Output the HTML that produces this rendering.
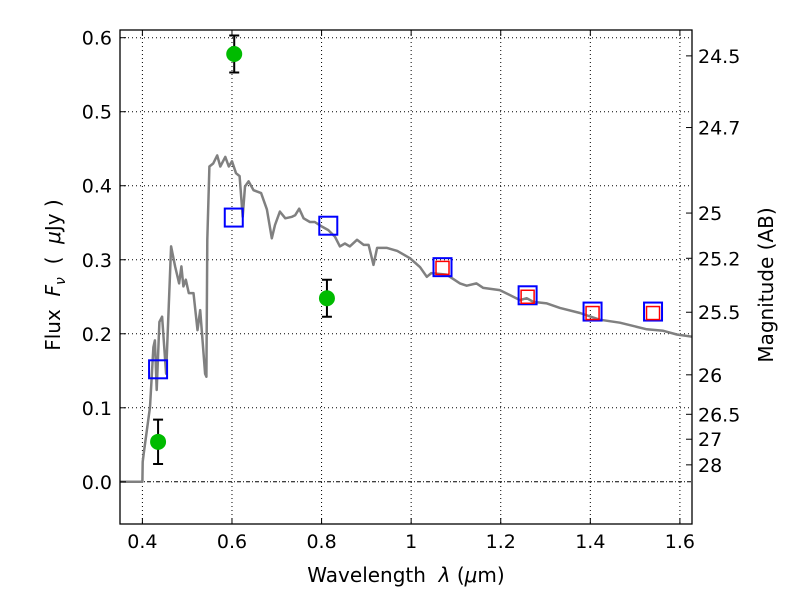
<!DOCTYPE html>
<html><head><meta charset="utf-8"><style>
body{margin:0;background:#fff;}
svg text{font-family:"DejaVu Sans","Liberation Sans",sans-serif;white-space:pre;}
</style></head><body>
<svg id="chart" width="800" height="600" xmlns="http://www.w3.org/2000/svg">
<rect x="0" y="0" width="800" height="600" fill="#fff"/>
<g id="grid"></g><g id="marks"></g><g id="axes"></g>
</svg>
<script>
const specWl=[0.35,0.400,0.4007,0.403,0.417,0.4246,0.428,0.432,0.438,0.444,0.453,0.464,0.473,0.482,0.487,0.4915,0.497,0.5035,0.514,0.523,0.529,0.54,0.543,0.545,0.5496,0.558,0.567,0.574,0.585,0.593,0.600,0.609,0.617,0.624,0.629,0.637,0.648,0.665,0.678,0.689,0.696,0.707,0.719,0.734,0.741,0.750,0.760,0.774,0.785,0.800,0.815,0.830,0.841,0.852,0.863,0.879,0.894,0.905,0.916,0.924,0.946,0.969,0.9976,1.02,1.035,1.045,1.079,1.109,1.124,1.146,1.161,1.198,1.243,1.258,1.273,1.303,1.332,1.377,1.421,1.466,1.526,1.563,1.593,1.627];
const specFlux=[0,0,0.027,0.038,0.101,0.182,0.191,0.124,0.216,0.223,0.146,0.318,0.291,0.268,0.291,0.264,0.273,0.255,0.255,0.205,0.232,0.146,0.142,0.327,0.426,0.430,0.441,0.426,0.439,0.426,0.433,0.417,0.413,0.358,0.399,0.406,0.394,0.390,0.368,0.329,0.347,0.365,0.356,0.358,0.360,0.369,0.356,0.351,0.351,0.345,0.340,0.331,0.318,0.322,0.318,0.327,0.320,0.320,0.293,0.316,0.316,0.312,0.302,0.290,0.277,0.282,0.280,0.268,0.265,0.268,0.262,0.259,0.2455,0.248,0.243,0.241,0.235,0.228,0.219,0.215,0.206,0.204,0.199,0.196];
const obsWl=[0.435,0.605,0.812];
const obsFlux=[0.054,0.578,0.248];
const obsErr=[0.030,0.025,0.025];
const blueWl=[0.435,0.604,0.815,1.07,1.26,1.405,1.54];
const blueFlux=[0.152,0.357,0.346,0.290,0.252,0.230,0.230];
const redWl=[1.07,1.26,1.405,1.54];
const redFlux=[0.289,0.250,0.228,0.228];
const xTicks=[0.4,0.6,0.8,1.0,1.2,1.4,1.6];
const xTickLabels=["0.4","0.6","0.8","1","1.2","1.4","1.6"];
const yTicks=[0,0.1,0.2,0.3,0.4,0.5,0.6];
const yTickLabels=["0.0","0.1","0.2","0.3","0.4","0.5","0.6"];
const magTicks=[24.5,24.7,25,25.2,25.5,26,26.5,27,28];
const magLabels=["24.5","24.7","25","25.2","25.5","26","26.5","27","28"];

const L=120,R=692,T=30,B=524;
const X0=0.35,X1=1.627,Y0=-0.057,Y1=0.6104;
const sx=v=>L+(v-X0)/(X1-X0)*(R-L);
const sy=v=>B-(v-Y0)/(Y1-Y0)*(B-T);
const NS="http://www.w3.org/2000/svg";
function mk(parent,tag,attrs){const e=document.createElementNS(NS,tag);for(const k in attrs)e.setAttribute(k,attrs[k]);document.getElementById(parent).appendChild(e);return e;}

xTicks.forEach((t,i)=>{
  const g=mk('grid','line',{x1:sx(t),x2:sx(t),y1:T,y2:B,stroke:'#000','stroke-width':1,'stroke-dasharray':'1,3'});
  
  
});
yTicks.forEach((t,i)=>{
  const g=mk('grid','line',{x1:L,x2:R,y1:sy(t),y2:sy(t),stroke:'#000','stroke-width':1,'stroke-dasharray':t===0?'4,2,1,2':'1,3'});
  
  
});

const pts=specWl.map((w,i)=>sx(w).toFixed(1)+','+sy(specFlux[i]).toFixed(1)).join(' ');
const sp=mk('marks','polyline',{points:pts,fill:'none',stroke:'#808080','stroke-width':2.5,'stroke-linejoin':'round'});



blueWl.forEach((w,i)=>{
  const r=mk('marks','rect',{x:sx(w)-9,y:sy(blueFlux[i])-9,width:18,height:18,fill:'none',stroke:'#0000ff','stroke-width':2});
  
  
});
redWl.forEach((w,i)=>{
  const r=mk('marks','rect',{x:sx(w)-6.5,y:sy(redFlux[i])-6.5,width:13,height:13,fill:'none',stroke:'#ff0000','stroke-width':1.5});
  
  
});
obsWl.forEach((w,i)=>{
  const x=sx(w),yt=sy(obsFlux[i]+obsErr[i]),yb=sy(obsFlux[i]-obsErr[i]);
  const e=mk('marks','path',{d:`M${x},${yt}V${yb}M${x-5},${yt}h10M${x-5},${yb}h10`,stroke:'#000','stroke-width':2,fill:'none'});
  
  
  const c=mk('marks','circle',{cx:x,cy:sy(obsFlux[i]),r:8,fill:'#00bb00'});
  
  
});

const fr=mk('axes','rect',{x:L,y:T,width:R-L,height:B-T,fill:'none',stroke:'#000','stroke-width':1.3});



xTicks.forEach((t,i)=>{
  const x=sx(t);
  mk('axes','path',{d:`M${x},${B}v-6M${x},${T}v6`,stroke:'#000','stroke-width':1});
  const tx=mk('axes','text',{x:x,y:B+24,'text-anchor':'middle','font-size':19});
  tx.textContent=xTickLabels[i];
  
  
});
yTicks.forEach((t,i)=>{
  const y=sy(t);
  mk('axes','path',{d:`M${L},${y}h6`,stroke:'#000','stroke-width':1});
  const tx=mk('axes','text',{x:L-8,y:y+7,'text-anchor':'end','font-size':19});
  tx.textContent=yTickLabels[i];
  
  
});
magTicks.forEach((m,i)=>{
  const f=Math.pow(10,(23.9-m)/2.5);
  const y=sy(f);
  mk('axes','path',{d:`M${R},${y}h-6`,stroke:'#000','stroke-width':1});
  const tx=mk('axes','text',{x:R+6,y:y+7,'text-anchor':'start','font-size':19});
  tx.textContent=magLabels[i];
  
  
});

const xl=mk('axes','text',{x:406,y:582,'text-anchor':'middle','font-size':20});
xl.innerHTML='Wavelength  <tspan font-style="italic">λ</tspan> (<tspan font-style="italic">μ</tspan>m)';


const yl=mk('axes','text',{transform:'translate(60,275) rotate(-90)','text-anchor':'middle','font-size':20});
yl.innerHTML='Flux  <tspan font-style="italic">F</tspan><tspan font-style="italic" font-size="14" dy="5">ν</tspan><tspan dy="-5">  (  </tspan><tspan font-style="italic">μ</tspan>Jy )';


const rl=mk('axes','text',{transform:'translate(773,285) rotate(-90)','text-anchor':'middle','font-size':20});
rl.textContent='Magnitude (AB)';


</script>
</body></html>
